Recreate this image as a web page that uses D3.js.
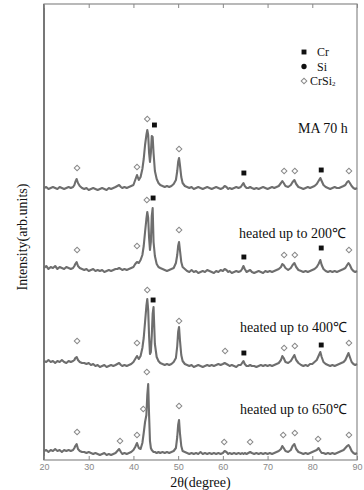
<!DOCTYPE html>
<html>
<head>
<meta charset="utf-8">
<script src="https://cdn.jsdelivr.net/npm/d3@7"></script>
<style>
  body { margin: 0; background: #fff; }
  svg { display: block; }
  .tick text { font-family: "Liberation Sans", Arial, sans-serif; font-size: 9px; fill: #888; }
  .tick line { stroke: #888; }
  .lbl { font-family: "Liberation Serif", "Times New Roman", serif; fill: #111; }
</style>
</head>
<body>
<div id="chart"></div>
<script>
// 2theta sampling points (degree), shared by all four patterns
var twoTheta = [
  20, 20.5, 21, 21.5, 22, 22.5, 23, 23.5, 24, 24.5, 25, 25.5, 26,
  26.5, 26.8, 27, 27.3, 27.6, 28, 28.5,
  29, 29.5, 30, 30.5, 31, 31.5, 32, 32.5, 33, 33.5, 34, 34.5, 35, 35.5, 36,
  36.4, 36.8, 37.2,
  37.5, 38, 38.5, 39, 39.5, 40,
  40.4, 40.8, 41.2, 41.6, 42, 42.3, 42.6, 42.9, 43.1, 43.3, 43.5, 43.7, 43.9, 44.1, 44.3, 44.5, 44.8, 45.2, 45.6, 46,
  46.5, 47, 47.5, 48, 48.5, 49,
  49.5, 49.8, 50, 50.2, 50.4, 50.7, 51, 51.5,
  52, 52.5, 53, 53.5, 54, 54.5, 55, 55.5, 56, 56.5, 57, 57.5, 58, 58.5, 59, 59.5,
  60, 60.4, 60.8, 61.2,
  61.5, 62, 62.5, 63, 63.5,
  64, 64.3, 64.6, 64.9, 65.3,
  65.7, 66.1, 66.5,
  67, 67.5, 68, 68.5, 69, 69.5, 70, 70.5, 71, 71.5, 72,
  72.5, 73, 73.3, 73.6, 74, 74.6, 75.2, 75.6, 76, 76.4, 76.9,
  77.5, 78, 78.5, 79, 79.5, 80, 80.5,
  81, 81.4, 81.8, 82.1, 82.5, 83,
  83.5, 84, 84.5, 85, 85.5, 86, 86.5, 87,
  87.4, 87.8, 88.1, 88.4, 88.8, 89.2, 89.6, 90
];

// intensity above each pattern's own baseline (arb. units)
var ma70h = [
  1, 2, 0, 1, 2, 1, 0, 2, 1, 0, 1, 2, 1,
  2, 4, 7, 10, 6, 3, 1,
  0, 1, -1, 0, 1, 0, -1, 0, 1, 0, -1, 1, 0, 1, 2,
  3, 4, 2,
  1, 2, 1, 2, 3, 4,
  9, 14, 9, 12, 20, 30, 44, 54, 59, 54, 36, 27, 36, 53, 52, 36, 18, 10, 6, 4,
  3, 2, 3, 2, 3, 5,
  9, 18, 27, 31, 24, 12, 6, 3,
  2, 1, 2, 0, 1, 2, 1, 0, 1, 2, 1, 0, 1, 2, 1, 0,
  1, 3, 2, 0,
  1, 0, 1, 2, 1,
  2, 4, 6, 3, 1,
  1, 2, 1,
  0, 1, 0, 1, 2, 1, 0, 1, 2, 1, 2,
  3, 6, 8, 6, 3, 2, 4, 7, 9, 5, 2,
  1, 0, 1, 2, 1, 2, 3,
  5, 8, 11, 8, 4, 2,
  1, 0, 1, 2, 1, 1, 2, 3,
  4, 7, 8, 6, 3, 1, 0, 1
];
var heated200 = [
  4, 6, 3, 5, 4, 6, 3, 5, 4, 3, 5, 4, 3,
  4, 6, 8, 10, 6, 4, 3,
  2, 3, 1, 2, 3, 1, 2, 1, 2, 0, 1, 2, 1, 2, 3,
  3, 4, 3,
  2, 3, 2, 3, 4, 5,
  8, 10, 9, 12, 17, 26, 40, 53, 60, 54, 34, 22, 30, 56, 64, 30, 16, 8, 5, 4,
  3, 2, 1, 2, 3, 4,
  9, 17, 26, 30, 22, 10, 5, 3,
  1, 0, 2, 0, 1, -1, 0, 1, 0, 2, 1, 0, -1, 1, 0, 2,
  1, 3, 2, 0,
  1, -1, 0, 1, 0,
  1, 3, 6, 3, 0,
  1, 2, 0,
  -1, 0, 1, 0, -1, 1, 0, 1, 0, 1, 2,
  3, 5, 8, 7, 4, 2, 4, 7, 9, 5, 2,
  1, 0, 1, 0, 1, 2, 3,
  5, 8, 12, 7, 3, 1,
  0, 1, 0, 1, 0, 1, 2, 3,
  4, 7, 9, 7, 3, 1, 0, 1
];
var heated400 = [
  5, 4, 6, 4, 5, 3, 5, 4, 6, 4, 3, 5, 4,
  5, 6, 8, 9, 6, 4, 3,
  3, 2, 3, 1, 2, 0, 1, -1, 0, 1, -1, 0, 1, 0, 1,
  2, 3, 1,
  0, 1, 0, 1, 2, 4,
  7, 10, 7, 10, 18, 28, 44, 60, 67, 56, 30, 12, 14, 30, 52, 59, 22, 9, 5, 3,
  2, 1, 2, 1, 2, 4,
  8, 20, 34, 39, 26, 11, 5, 2,
  1, 0, 1, -1, 0, 1, 0, -1, 0, 1, 0, 1, 0, 1, 2, 1,
  2, 3, 2, 1,
  0, 1, 0, -1, 1,
  1, 3, 5, 2, 0,
  0, 1, 0,
  0, -1, 0, 1, 0, 1, 0, 1, 0, 1, 2,
  3, 6, 10, 8, 4, 3, 5, 8, 11, 6, 3,
  1, 0, 1, 0, 2, 2, 4,
  6, 10, 14, 9, 4, 2,
  1, 0, 1, 0, 1, 2, 3, 4,
  6, 10, 13, 9, 4, 2, 1, 2
];
var heated650 = [
  4, 5, 3, 5, 4, 6, 4, 5, 3, 5, 4, 5, 4,
  5, 7, 9, 11, 6, 4, 3,
  3, 2, 3, 2, 1, 2, 1, 0, 1, 2, 0, 1, 0, 1, 2,
  4, 6, 3,
  1, 2, 1, 2, 3, 5,
  8, 12, 7, 6, 12, 22, 33, 40, 60, 71, 40, 14, 7, 5, 4, 3, 3, 2, 3, 2,
  3, 2, 3, 2, 3, 4,
  7, 18, 30, 35, 22, 9, 4, 3,
  2, 1, 2, 1, 2, 1, 3, 1, 2, 1, 2, 1, 2, 1, 2, 1,
  2, 4, 3, 1,
  2, 1, 2, 1, 2,
  1, 2, 1, 2, 1,
  2, 3, 2,
  1, 2, 1, 2, 1, 2, 1, 2, 1, 2, 3,
  4, 6, 9, 7, 4, 3, 5, 9, 11, 6, 3,
  2, 1, 2, 1, 2, 3, 4,
  5, 7, 4, 2, 2, 1,
  2, 1, 2, 1, 2, 3, 4, 5,
  7, 9, 10, 8, 4, 2, 1, 2
];

var patternNames = ["MA 70 h", "heated up to 200\u2103", "heated up to 400\u2103", "heated up to 650\u2103"];
var baselines = [271, 188, 94, 5];

// peak markers: [phase, 2theta, height above baseline]
var marks70h = [
  ["CrSi2", 27.4, 21], ["CrSi2", 40.8, 22], ["CrSi2", 43.1, 70], ["Cr", 44.7, 64],
  ["CrSi2", 50.2, 40], ["Cr", 64.7, 16], ["CrSi2", 73.7, 18], ["CrSi2", 76.1, 18],
  ["Cr", 82, 19], ["CrSi2", 88.2, 18]
];
var marks200 = [
  ["CrSi2", 27.4, 22], ["CrSi2", 40.8, 26], ["CrSi2", 43.0, 72], ["Cr", 44.4, 74],
  ["CrSi2", 50.2, 42], ["Cr", 64.7, 15], ["CrSi2", 73.7, 17], ["CrSi2", 76.1, 17],
  ["Cr", 82, 24], ["CrSi2", 88.2, 22]
];
var marks400 = [
  ["CrSi2", 27.4, 25], ["CrSi2", 40.8, 23], ["CrSi2", 43.1, 76], ["Cr", 44.4, 66],
  ["CrSi2", 50.2, 45], ["CrSi2", 60.5, 15], ["Cr", 64.7, 13], ["CrSi2", 73.7, 18],
  ["CrSi2", 76.1, 20], ["Cr", 82, 21], ["CrSi2", 88.2, 23]
];
var marks650 = [
  ["CrSi2", 27.4, 23], ["CrSi2", 37, 14], ["CrSi2", 40.8, 20], ["CrSi2", 42.2, 46],
  ["CrSi2", 43.0, 83], ["CrSi2", 50.2, 49], ["CrSi2", 60.3, 13], ["CrSi2", 66.1, 13],
  ["CrSi2", 73.5, 20], ["CrSi2", 76.1, 22], ["CrSi2", 81.3, 16], ["CrSi2", 88.2, 20]
];

var xTicks = [20, 30, 40, 50, 60, 70, 80, 90];
var legendItems = ["Cr", "Si", "CrSi2"];

var series = [ma70h, heated200, heated400, heated650];
var seriesMarks = [marks70h, marks200, marks400, marks650];

// layout
var W = 364, H = 490;
var frame = { left: 44, right: 357, top: 4, bottom: 460 };
var labelPos = [[298, 133], [239, 238], [240, 332], [240, 414]];

var svg = d3.select("#chart").append("svg")
    .attr("width", W)
    .attr("height", H);

var x = d3.scaleLinear().domain([20, 90]).range([frame.left, frame.right]);
var y = d3.scaleLinear().domain([0, 456]).range([frame.bottom, frame.top]);

// frame
svg.append("rect")
    .attr("x", frame.left)
    .attr("y", frame.top)
    .attr("width", frame.right - frame.left)
    .attr("height", frame.bottom - frame.top)
    .attr("fill", "none")
    .attr("stroke", "#8a8a8a")
    .attr("stroke-width", 1.2);

svg.append("line")
    .attr("x1", frame.left).attr("x2", frame.left)
    .attr("y1", frame.top).attr("y2", frame.bottom)
    .attr("stroke", "#777")
    .attr("stroke-width", 2);

// axes, ticks pointing inward
var bottomAxis = svg.append("g")
    .attr("transform", "translate(0," + frame.bottom + ")")
    .call(d3.axisBottom(x).tickValues(xTicks).tickSize(-4).tickPadding(4));
bottomAxis.select(".domain").remove();

var topAxis = svg.append("g")
    .attr("transform", "translate(0," + frame.top + ")")
    .call(d3.axisTop(x).tickValues(xTicks).tickSize(-4).tickFormat(""));
topAxis.select(".domain").remove();

// patterns
var line = d3.line()
    .x(function(d, i) { return x(twoTheta[i]); })
    .y(function(d) { return d; });

series.forEach(function(vals, k) {
    var base = baselines[k];
    svg.append("path")
        .attr("d", line(vals.map(function(v) { return y(base + v); })))
        .attr("fill", "none")
        .attr("stroke", "#6e6e6e")
        .attr("stroke-width", 2.1)
        .attr("stroke-linejoin", "round");

    svg.append("text")
        .attr("class", "lbl")
        .attr("x", labelPos[k][0])
        .attr("y", labelPos[k][1])
        .attr("font-size", 14)
        .text(patternNames[k]);

    drawMarks(seriesMarks[k], base);
});

function markPath(phase) {
    if (phase === "Cr") return d3.symbol(d3.symbolSquare, 24)();
    if (phase === "Si") return d3.symbol(d3.symbolCircle, 22)();
    return d3.symbol(d3.symbolSquare, 16)();
}

function markStyle(sel, phase) {
    if (phase === "CrSi2") {
        sel.attr("fill", "#fff").attr("stroke", "#8a8a8a").attr("stroke-width", 1);
    } else {
        sel.attr("fill", "#111").attr("stroke", "none");
    }
}

function drawMarks(list, base) {
    list.forEach(function(m) {
        var p = svg.append("path")
            .attr("d", markPath(m[0]))
            .attr("transform", "translate(" + x(m[1]) + "," + y(base + m[2]) + ")" +
                (m[0] === "CrSi2" ? " rotate(45)" : ""));
        markStyle(p, m[0]);
    });
}

// legend
var legend = svg.append("g");
legendItems.forEach(function(name, i) {
    var ly = 52 + i * 14.5;
    var p = legend.append("path")
        .attr("d", markPath(name))
        .attr("transform", "translate(304," + ly + ")" + (name === "CrSi2" ? " rotate(45)" : ""));
    markStyle(p, name);
    var t = legend.append("text")
        .attr("class", "lbl")
        .attr("x", name === "CrSi2" ? 310 : 317)
        .attr("y", ly + 4)
        .attr("font-size", 12);
    if (name === "CrSi2") {
        t.append("tspan").text("CrSi");
        t.append("tspan").attr("font-size", 7).attr("dy", 1).text("2");
    } else {
        t.text(name);
    }
});

// axis titles
svg.append("text")
    .attr("class", "lbl")
    .attr("text-anchor", "middle")
    .attr("font-size", 14)
    .attr("x", (frame.left + frame.right) / 2)
    .attr("y", 487)
    .text("2\u03b8(degree)");

svg.append("text")
    .attr("class", "lbl")
    .attr("text-anchor", "middle")
    .attr("font-size", 14)
    .attr("transform", "translate(27,237) rotate(-90)")
    .text("Intensity(arb.units)");
</script>
</body>
</html>
